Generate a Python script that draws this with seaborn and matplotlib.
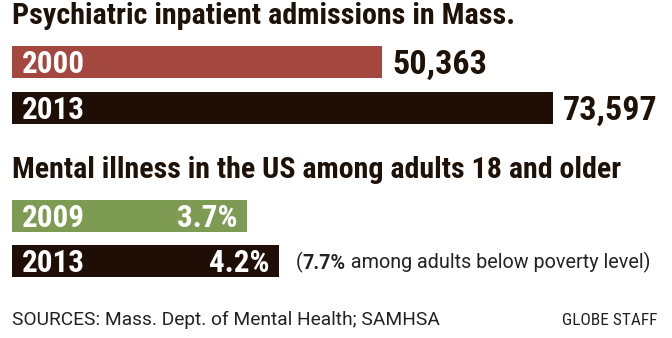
import matplotlib
matplotlib.use("Agg")
import matplotlib.pyplot as plt
from matplotlib import font_manager as fm
import seaborn as sns
import pandas as pd

# ---- data ----
title_top = "Psychiatric inpatient admissions in Mass."
top_years = ["2000", "2013"]
admissions = [50363, 73597]

title_bottom = "Mental illness in the US among adults 18 and older"
bottom_years = ["2009", "2013"]
rates = [3.7, 4.2]
poverty_rate = 7.7

source_text = "SOURCES: Mass. Dept. of Mental Health; SAMHSA"
credit_text = "GLOBE STAFF"

# ---- style ----
RED = "#A4473F"
DARK = "#1E0E05"
GREEN = "#7D9B52"
TXT = "#1E1208"

sns.set_theme(style="white")
names = {f.name for f in fm.fontManager.ttflist}
COND = None
for cand in ["Roboto Condensed", "Liberation Sans Narrow", "Open Sans Condensed",
             "Noto Sans Condensed", "DejaVu Sans Condensed"]:
    if cand in names:
        COND = cand
        break
if COND is None:
    COND = "DejaVu Sans"
REG = "Roboto" if "Roboto" in names else "DejaVu Sans"
plt.rcParams["font.family"] = [COND, "DejaVu Sans"]
HEAVY = "heavy"

W, H = 672, 338
fig = plt.figure(figsize=(W / 100, H / 100), dpi=100)
fig.patch.set_facecolor("white")
renderer = fig.canvas.get_renderer()


def fx(px):
    return px / W


def fy(py):
    return 1 - py / H


def fit(t, target_w):
    for _ in range(2):
        w = t.get_window_extent(renderer).width
        t.set_fontsize(t.get_fontsize() * target_w / w)
    return t


# ---- titles and footer ----
t1 = fig.text(fx(12), fy(24), title_top, ha="left", va="baseline",
              fontsize=18, fontweight=HEAVY, color=TXT, family=[COND, "DejaVu Sans"])
fit(t1, 501)
t2 = fig.text(fx(12), fy(178), title_bottom, ha="left", va="baseline",
              fontsize=18, fontweight=HEAVY, color=TXT, family=[COND, "DejaVu Sans"])
fit(t2, 611)
s = fig.text(fx(12), fy(325), source_text, ha="left", va="baseline",
             fontsize=12, color="#222222", family=[REG, "DejaVu Sans"])
fit(s, 428)
g = fig.text(fx(657), fy(325), credit_text, ha="right", va="baseline",
             fontsize=11, color="#222222", family=[COND, "DejaVu Sans"])
fit(g, 94)

# ---- top panel ----
ax1 = fig.add_axes([fx(12), fy(131), 648 / W, 92 / H])
df1 = pd.DataFrame({"year": top_years, "value": admissions})
sns.barplot(data=df1, x="value", y="year", hue="year", palette=[RED, DARK],
            orient="h", width=0.7, saturation=1, legend=False, linewidth=0, ax=ax1)
ax1.set_xlim(0, 648 * max(admissions) / 541)
ax1.set_ylim(1.5, -0.5)
ax1.axis("off")

# label sizes
probe = ax1.text(0, 0, "2000", fontsize=18, fontweight=HEAVY)
fit(probe, 63)
YEAR_FS = probe.get_fontsize()
probe.remove()
probe = ax1.text(0, 0, "73,597", fontsize=18, fontweight=HEAVY)
fit(probe, 95)
VAL_FS = probe.get_fontsize()
probe.remove()
cap_year = 0.71 * YEAR_FS * 100 / 72
cap_val = 0.71 * VAL_FS * 100 / 72

for i, (yr, v) in enumerate(zip(top_years, admissions)):
    ax1.annotate(yr, xy=(0, i), xytext=(10, -cap_year / 2), textcoords="offset pixels",
                 ha="left", va="baseline", fontsize=YEAR_FS, fontweight=HEAVY, color="white")
    ax1.annotate(f"{v:,}", xy=(v, i), xytext=(10, -cap_val / 2), textcoords="offset pixels",
                 ha="left", va="baseline", fontsize=VAL_FS, fontweight=HEAVY, color=TXT)

# ---- bottom panel ----
ax2 = fig.add_axes([fx(12), fy(193 + 91), 648 / W, 91 / H])
df2 = pd.DataFrame({"year": [y + " " for y in bottom_years], "value": rates})
sns.barplot(data=df2, x="value", y="year", hue="year", palette=[GREEN, DARK],
            orient="h", width=0.7, saturation=1, legend=False, linewidth=0, ax=ax2)
ax2.set_xlim(0, 648 / 63.5)
ax2.set_ylim(1.5, -0.5)
ax2.axis("off")

for i, (yr, v) in enumerate(zip(bottom_years, rates)):
    ax2.annotate(yr, xy=(0, i), xytext=(10, -cap_year / 2), textcoords="offset pixels",
                 ha="left", va="baseline", fontsize=YEAR_FS, fontweight=HEAVY, color="white")
    ax2.annotate(f"{v}%", xy=(v, i), xytext=(-9, -cap_year / 2), textcoords="offset pixels",
                 ha="right", va="baseline", fontsize=YEAR_FS, fontweight=HEAVY, color="white")

# annotation next to the 2013 bar
ANN_FS = 13.5
parts = []
a0 = ax2.annotate("(", xy=(rates[1], 1), xytext=(17, -7), textcoords="offset pixels",
                  ha="left", va="baseline", fontsize=ANN_FS, color="#222222",
                  family=[REG, "DejaVu Sans"])
a1 = ax2.annotate(f"{poverty_rate}%", xy=(1, 0), xycoords=a0, ha="left", va="bottom",
                  fontsize=ANN_FS, fontweight="bold", color="#222222",
                  family=[REG, "DejaVu Sans"])
a2 = ax2.annotate(" among adults below poverty level)", xy=(1, 0), xycoords=a1,
                  ha="left", va="bottom", fontsize=ANN_FS, color="#222222",
                  family=[REG, "DejaVu Sans"])
parts = [a0, a1, a2]
for _ in range(2):
    left = a0.get_window_extent(renderer).x0
    right = a2.get_window_extent(renderer).x1
    k = 354 / (right - left)
    for p in parts:
        p.set_fontsize(p.get_fontsize() * k)

fig.savefig("out.png", dpi=100, facecolor="white")
